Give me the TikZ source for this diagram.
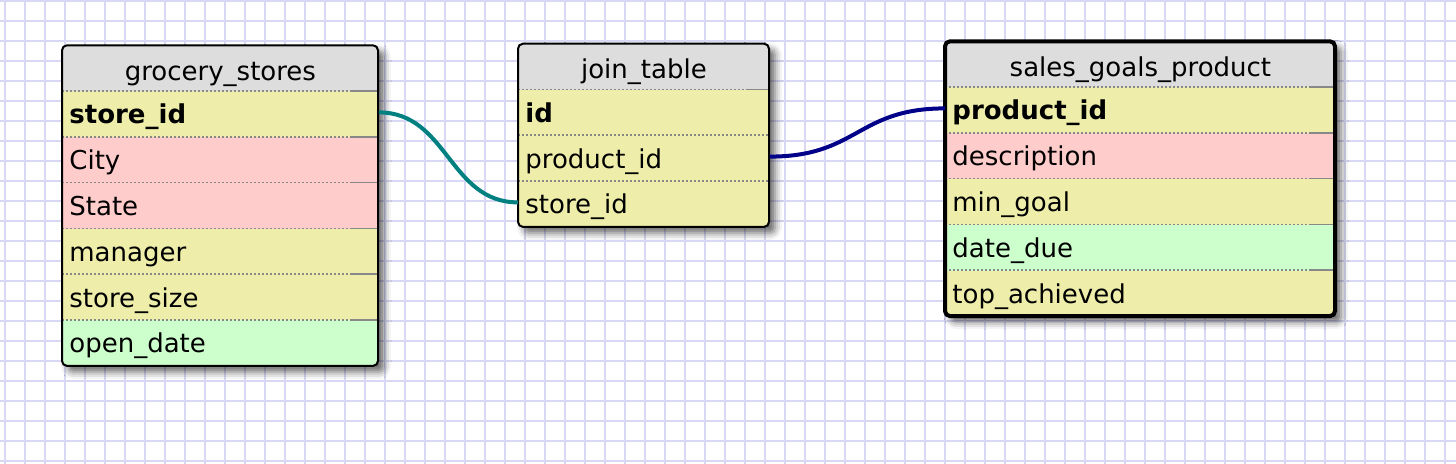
\documentclass[tikz,border=0pt]{standalone}
\usepackage{fontspec}
\usetikzlibrary{shadows.blur}
\newfontfamily\erdfont{DejaVu Sans}
\newcommand{\fieldfont}{\erdfont\fontsize{13pt}{15pt}\selectfont}
\definecolor{headgray}{RGB}{221,221,221}
\definecolor{rowyellow}{RGB}{238,238,170}
\definecolor{rowpink}{RGB}{255,204,204}
\definecolor{rowgreen}{RGB}{204,255,204}
\definecolor{gridblue}{RGB}{216,216,244}
\definecolor{sepgray}{RGB}{136,136,136}
\definecolor{wireteal}{RGB}{0,128,128}
\definecolor{wirenavy}{RGB}{0,0,136}
\begin{document}
\begin{tikzpicture}[x=0.5pt, y=-0.5pt,
    field/.style={anchor=north west, inner xsep=3.5pt, inner ysep=0pt,
      minimum height=22.9pt, text height=10.5pt, text depth=1pt,
      text width=#1, align=left, font=\fieldfont},
    headrow/.style={fill=headgray, align=center, text height=12pt, text depth=0pt},
    yellowrow/.style={fill=rowyellow},
    pinkrow/.style={fill=rowpink},
    greenrow/.style={fill=rowgreen},
    keyfield/.style={font=\fieldfont\bfseries},
    tableshadow/.style={fill=white, rounded corners=2.5pt,
      blur shadow={shadow xshift=3pt, shadow yshift=-3pt,
        shadow blur radius=3.5pt, shadow opacity=60}},
    tableframe/.style={draw=black, line width=1pt, rounded corners=2.5pt},
    sepline/.style={draw=sepgray, line width=0.8pt, dash pattern=on 1pt off 1pt},
    sepend/.style={postaction={draw=sepgray, solid, line width=0.8pt, shorten <=#1}},
    wire/.style={line width=2pt}]

            \useasboundingbox (0,0) rectangle (1456,464);

            % Grid
            \draw[gridblue, line width=1pt, xstep=10pt, ystep=10pt, shift={(5,1)}] (-5,463) grid (1451,-1);

            % grocery_stores table
            \coordinate (gsnw) at (62,45.3);
            \coordinate (gsse) at (378,365.9);
            \path[tableshadow] (gsnw) rectangle (gsse);
            \begin{scope}
                \clip[rounded corners=2.5pt] (gsnw) rectangle (gsse);
                \node[field=151pt, headrow] (gsh) at (62,45.3) {grocery\_stores};
                \node[field=151pt, yellowrow, keyfield] (gs1) at (62,91.1) {store\_id};
                \node[field=151pt, pinkrow] (gs2) at (62,136.9) {City};
                \node[field=151pt, pinkrow] (gs3) at (62,182.7) {State};
                \node[field=151pt, yellowrow] (gs4) at (62,228.5) {manager};
                \node[field=151pt, yellowrow] (gs5) at (62,274.3) {store\_size};
                \node[field=151pt, greenrow] (gs6) at (62,320.1) {open\_date};
            \end{scope}
            \draw[sepline, sepend=144.5pt] (gs1.north west) -- (gs1.north east);
            \draw[sepline, sepend=144.5pt] (gs2.north west) -- (gs2.north east);
            \draw[sepline, sepend=144.5pt] (gs3.north west) -- (gs3.north east);
            \draw[sepline, sepend=144.5pt] (gs4.north west) -- (gs4.north east);
            \draw[sepline, sepend=144.5pt] (gs5.north west) -- (gs5.north east);
            \draw[sepline, sepend=144.5pt] (gs6.north west) -- (gs6.north east);
            \draw[tableframe] (gsnw) rectangle (gsse);

            % join_table table
            \coordinate (jtnw) at (518,43.7);
            \coordinate (jtse) at (769,226.9);
            \path[tableshadow] (jtnw) rectangle (jtse);
            \begin{scope}
                \clip[rounded corners=2.5pt] (jtnw) rectangle (jtse);
                \node[field=118.5pt, headrow] (jth) at (518,43.7) {join\_table};
                \node[field=118.5pt, yellowrow, keyfield] (jt1) at (518,89.5) {id};
                \node[field=118.5pt, yellowrow] (jt2) at (518,135.3) {product\_id};
                \node[field=118.5pt, yellowrow] (jt3) at (518,181.1) {store\_id};
            \end{scope}
            \draw[sepline, sepend=114.5pt] (jt1.north west) -- (jt1.north east);
            \draw[sepline] (jt2.north west) -- (jt2.north east);
            \draw[sepline] (jt3.north west) -- (jt3.north east);
            \draw[tableframe] (jtnw) rectangle (jtse);

            % sales_goals_product table
            \coordinate (sgnw) at (945,41.3);
            \coordinate (sgse) at (1335,316.1);
            \path[tableshadow] (sgnw) rectangle (sgse);
            \begin{scope}
                \clip[rounded corners=2.5pt] (sgnw) rectangle (sgse);
                \node[field=188pt, headrow] (sgh) at (945,41.3) {sales\_goals\_product};
                \node[field=188pt, yellowrow, keyfield] (sg1) at (945,87.1) {product\_id};
                \node[field=188pt, pinkrow] (sg2) at (945,132.9) {description};
                \node[field=188pt, yellowrow] (sg3) at (945,178.7) {min\_goal};
                \node[field=188pt, greenrow] (sg4) at (945,224.5) {date\_due};
                \node[field=188pt, yellowrow] (sg5) at (945,270.3) {top\_achieved};
            \end{scope}
            \draw[sepline, sepend=182pt] (sg1.north west) -- (sg1.north east);
            \draw[sepline, sepend=182pt] (sg2.north west) -- (sg2.north east);
            \draw[sepline, sepend=182pt] (sg3.north west) -- (sg3.north east);
            \draw[sepline, sepend=182pt] (sg4.north west) -- (sg4.north east);
            \draw[sepline, sepend=182pt] (sg5.north west) -- (sg5.north east);
            \draw[tableframe, line width=2pt] (sgnw) rectangle (sgse);

            % Relations
            \draw[wire, wireteal] ([yshift=1pt]gs1.east) .. controls +(69,0) and +(-69,0) .. ([yshift=1pt]jt3.west);
            \draw[wire, wirenavy] ([yshift=1pt]jt2.east) .. controls +(88,0) and +(-88,0) .. ([yshift=1pt]sg1.west);
        \end{tikzpicture}
\end{document}
